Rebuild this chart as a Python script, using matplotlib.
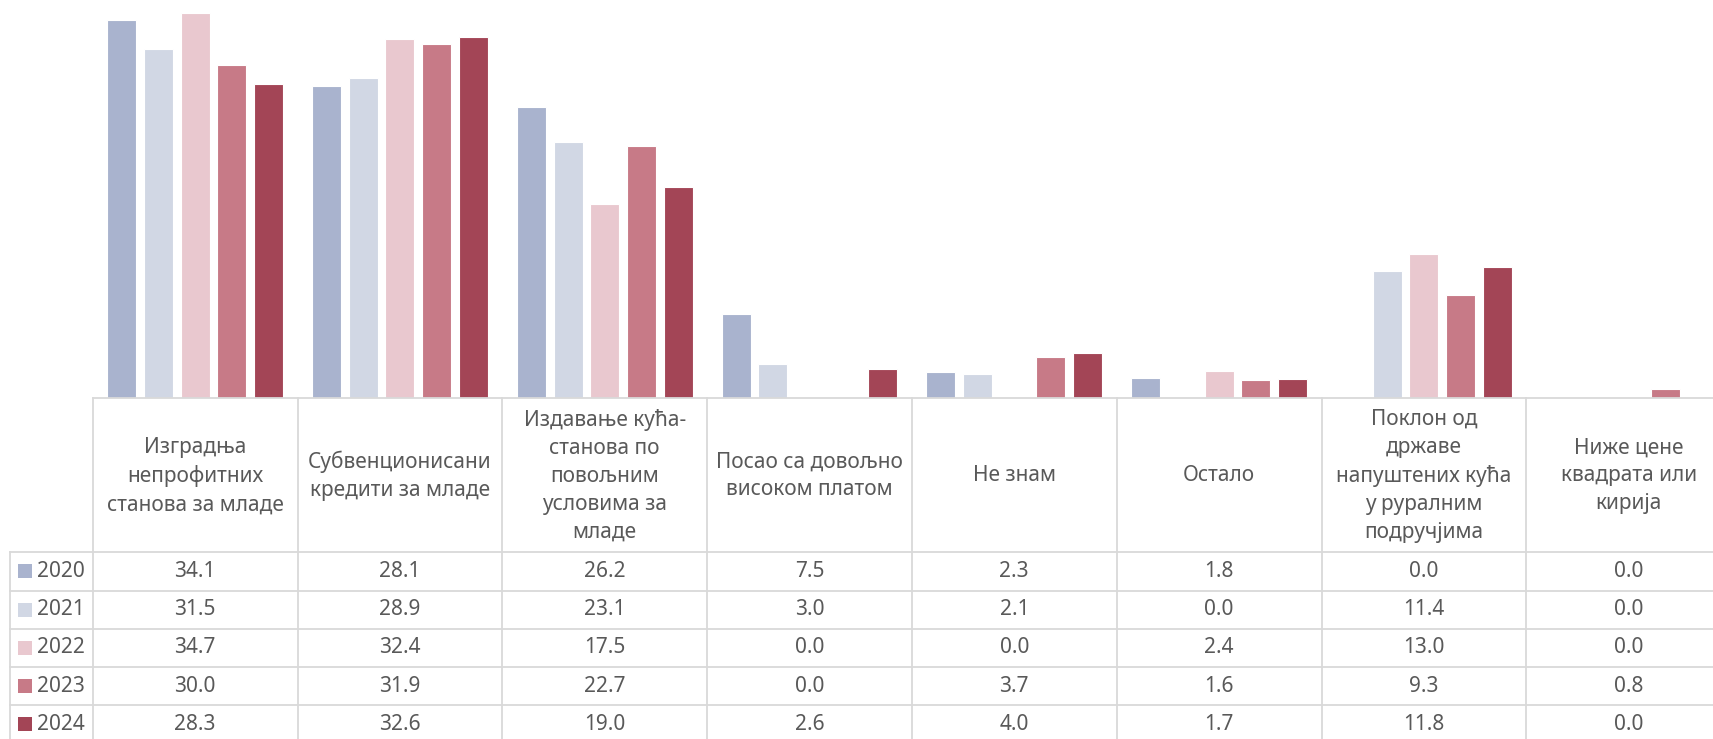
import numpy as np
import matplotlib.pyplot as plt

plt.rcParams['font.family'] = ['Noto Sans', 'DejaVu Sans']

categories = [
    "Изградња\nнепрофитних\nстанова за младе",
    "Субвенционисани\nкредити за младе",
    "Издавање кућа-\nстанова по\nповољним\nусловима за\nмладе",
    "Посао са довољно\nвисоком платом",
    "Не знам",
    "Остало",
    "Поклон од\nдржаве\nнапуштених кућа\nу руралним\nподручјима",
    "Ниже цене\nквадрата или\nкирија",
]
years = ["2020", "2021", "2022", "2023", "2024"]
v2020 = [34.1, 28.1, 26.2, 7.5, 2.3, 1.8, 0.0, 0.0]
v2021 = [31.5, 28.9, 23.1, 3.0, 2.1, 0.0, 11.4, 0.0]
v2022 = [34.7, 32.4, 17.5, 0.0, 0.0, 2.4, 13.0, 0.0]
v2023 = [30.0, 31.9, 22.7, 0.0, 3.7, 1.6, 9.3, 0.8]
v2024 = [28.3, 32.6, 19.0, 2.6, 4.0, 1.7, 11.8, 0.0]
series = [v2020, v2021, v2022, v2023, v2024]
colors = ["#A9B3CE", "#D1D7E4", "#E9C8CF", "#C77A87", "#A34556"]

W, H = 1713, 739
fig = plt.figure(figsize=(W / 100, H / 100), dpi=100)

# pixel layout of the data table (the right edge is cut off in the original)
col_x0 = 92.7
col_w = 204.8
base_y = 397.5
head_bot = 552.3
row_h = 38.2
lab_x0 = 10
grid_c = "#D9D9D9"
txt_c = "#595959"
fs = 15

n = len(categories)
ax = fig.add_axes([col_x0 / W, 1 - base_y / H, n * col_w / W, base_y / H])
x = np.arange(n) + 0.5
step = 0.179
bw = 0.1416
for k, (vals, c) in enumerate(zip(series, colors)):
    ax.bar(x + (k - 2) * step, vals, width=bw, color=c, edgecolor="white", linewidth=0.8)
ax.set_xlim(0, n)
ax.set_ylim(0, 35.9)
ax.axis("off")

# table drawn in pixel coordinates
tx = fig.add_axes([0, 0, 1, 1])
tx.set_xlim(0, W)
tx.set_ylim(H, 0)
tx.axis("off")
right = col_x0 + n * col_w
lw = 1.3

tx.plot([col_x0, right], [base_y, base_y], color=grid_c, lw=lw)
for r in range(len(years) + 1):
    yy = head_bot + r * row_h
    tx.plot([lab_x0, right], [yy, yy], color=grid_c, lw=lw)
tx.plot([lab_x0, lab_x0], [head_bot, H + 10], color=grid_c, lw=lw)
for i in range(n + 1):
    xx = col_x0 + i * col_w
    tx.plot([xx, xx], [base_y, H + 10], color=grid_c, lw=lw)

for i, cat in enumerate(categories):
    cx = col_x0 + (i + 0.5) * col_w
    tx.text(cx, (base_y + head_bot) / 2 + 1, cat, ha="center", va="center",
            fontsize=fs, color=txt_c, linespacing=1.44)

for r, (yr, vals, c) in enumerate(zip(years, series, colors)):
    cy = head_bot + (r + 0.5) * row_h
    tx.add_patch(plt.Rectangle((18, cy - 7), 14, 14, color=c, lw=0))
    tx.text(37, cy, yr, ha="left", va="center", fontsize=fs, color=txt_c)
    for i, v in enumerate(vals):
        cx = col_x0 + (i + 0.5) * col_w
        tx.text(cx, cy, f"{v:.1f}", ha="center", va="center", fontsize=fs, color=txt_c)

fig.savefig("out.png", dpi=100)
